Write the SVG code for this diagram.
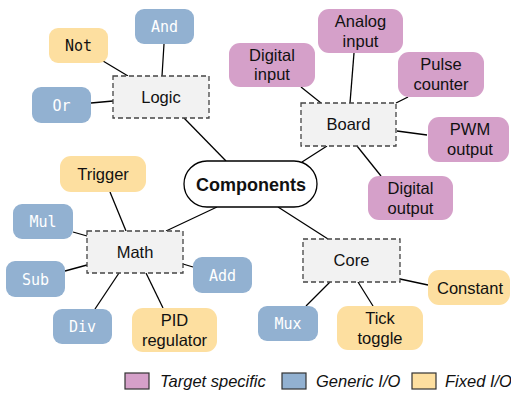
<svg xmlns="http://www.w3.org/2000/svg" width="511" height="393" viewBox="0 0 511 393">
  <style>
    .edge { stroke: #000; stroke-width: 1.3; fill: none; }
    .group rect { fill: #f2f2f2; stroke: #444; stroke-width: 1.3; stroke-dasharray: 5 3; }
    .target { fill: #d5a0c9; }
    .generic { fill: #92b1d1; }
    .fixed { fill: #fddfa0; }
    .lbl { font-family: "Liberation Sans", Arial, sans-serif; font-size: 16.5px; fill: #111; text-anchor: middle; }
    .root { font-size: 18px; font-weight: bold; }
    .mono { font-family: "DejaVu Sans Mono", "Liberation Mono", monospace; font-size: 15px; text-anchor: middle; }
    .mono.w { fill: #fff; }
    .mono.b { fill: #111; }
    .legend rect { stroke: #333; stroke-width: 1.2; }
    .legend text { font-family: "Liberation Sans", Arial, sans-serif; font-size: 16.5px; font-style: italic; fill: #111; }
  </style>

  <!-- connectors -->
  <g id="connectors">
    <line class="edge" x1="184" y1="118" x2="226" y2="161"/>
    <line class="edge" x1="103" y1="61" x2="128" y2="76"/>
    <line class="edge" x1="164" y1="44" x2="162" y2="76"/>
    <line class="edge" x1="91" y1="103" x2="113" y2="101"/>
    <line class="edge" x1="327" y1="146" x2="302" y2="162"/>
    <line class="edge" x1="301" y1="87" x2="321" y2="103"/>
    <line class="edge" x1="354" y1="53" x2="350" y2="103"/>
    <line class="edge" x1="408" y1="97" x2="396" y2="103"/>
    <line class="edge" x1="427" y1="135" x2="397" y2="131"/>
    <line class="edge" x1="381" y1="176" x2="357" y2="146"/>
    <line class="edge" x1="166" y1="231" x2="217" y2="207"/>
    <line class="edge" x1="110" y1="192" x2="126" y2="231"/>
    <line class="edge" x1="73" y1="232" x2="87" y2="236"/>
    <line class="edge" x1="65" y1="271" x2="87" y2="265"/>
    <line class="edge" x1="95" y1="309" x2="119" y2="273"/>
    <line class="edge" x1="163" y1="308" x2="146" y2="273"/>
    <line class="edge" x1="193" y1="267" x2="183" y2="264"/>
    <line class="edge" x1="328" y1="239" x2="278" y2="207"/>
    <line class="edge" x1="428" y1="285" x2="400" y2="279"/>
    <line class="edge" x1="306" y1="306" x2="330" y2="282"/>
    <line class="edge" x1="373" y1="306" x2="358" y2="282"/>
  </g>

  <!-- root -->
  <g id="components">
    <rect x="184" y="161" width="133" height="46" rx="23" fill="#fff" stroke="#000" stroke-width="1.3"/>
    <text x="251" y="190.5" class="lbl root">Components</text>
  </g>

  <!-- Logic group -->
  <g id="logic" class="group">
    <rect x="113" y="76" width="96" height="42"/>
    <text x="161" y="103" class="lbl">Logic</text>
  </g>
  <g id="and"><rect class="generic" x="135" y="9" width="59" height="35" rx="9"/><text x="164.5" y="31.5" class="mono w">And</text></g>
  <g id="not"><rect class="fixed" x="49" y="28" width="59" height="35" rx="9"/><text x="78.5" y="50.5" class="mono b">Not</text></g>
  <g id="or"><rect class="generic" x="32" y="87" width="59" height="36" rx="9"/><text x="61.5" y="110.5" class="mono w">Or</text></g>

  <!-- Board group -->
  <g id="board" class="group">
    <rect x="301" y="103" width="95" height="43"/>
    <text x="348.5" y="130" class="lbl">Board</text>
  </g>
  <g id="digital-input"><rect class="target" x="229" y="43" width="86" height="44" rx="11"/><text x="272" y="61" class="lbl">Digital</text><text x="272" y="80" class="lbl">input</text></g>
  <g id="analog-input"><rect class="target" x="318" y="9" width="85" height="44" rx="11"/><text x="360.5" y="27" class="lbl">Analog</text><text x="360.5" y="47" class="lbl">input</text></g>
  <g id="pulse-counter"><rect class="target" x="398" y="52" width="86" height="45" rx="11"/><text x="441" y="70" class="lbl">Pulse</text><text x="441" y="90" class="lbl">counter</text></g>
  <g id="pwm-output"><rect class="target" x="428" y="117" width="81" height="45" rx="11"/><text x="470" y="135" class="lbl">PWM</text><text x="470" y="155" class="lbl">output</text></g>
  <g id="digital-output"><rect class="target" x="368" y="176" width="85" height="44" rx="11"/><text x="410.5" y="194" class="lbl">Digital</text><text x="410.5" y="214" class="lbl">output</text></g>

  <!-- Math group -->
  <g id="math" class="group">
    <rect x="87" y="231" width="96" height="42"/>
    <text x="135" y="258" class="lbl">Math</text>
  </g>
  <g id="trigger"><rect class="fixed" x="60" y="156" width="86" height="36" rx="11"/><text x="103" y="179.5" class="lbl">Trigger</text></g>
  <g id="mul"><rect class="generic" x="13" y="204" width="60" height="35" rx="9"/><text x="43" y="226.5" class="mono w">Mul</text></g>
  <g id="sub"><rect class="generic" x="6" y="261" width="59" height="36" rx="9"/><text x="35.5" y="284.5" class="mono w">Sub</text></g>
  <g id="div"><rect class="generic" x="53" y="309" width="59" height="35" rx="9"/><text x="82.5" y="331.5" class="mono w">Div</text></g>
  <g id="pid-regulator"><rect class="fixed" x="132" y="308" width="85" height="44" rx="11"/><text x="174.5" y="326" class="lbl">PID</text><text x="174.5" y="346" class="lbl">regulator</text></g>
  <g id="add"><rect class="generic" x="193" y="257" width="59" height="36" rx="9"/><text x="222.5" y="280.5" class="mono w">Add</text></g>

  <!-- Core group -->
  <g id="core" class="group">
    <rect x="303" y="239" width="97" height="43"/>
    <text x="351.5" y="266" class="lbl">Core</text>
  </g>
  <g id="constant"><rect class="fixed" x="428" y="270" width="82" height="35" rx="11"/><text x="470" y="293.5" class="lbl">Constant</text></g>
  <g id="mux"><rect class="generic" x="258" y="306" width="60" height="35" rx="9"/><text x="288" y="328.5" class="mono w">Mux</text></g>
  <g id="tick-toggle"><rect class="fixed" x="337" y="306" width="86" height="44" rx="11"/><text x="380" y="324" class="lbl">Tick</text><text x="380" y="344" class="lbl">toggle</text></g>

  <!-- legend -->
  <g id="legend" class="legend">
    <rect class="target" x="125" y="373" width="24" height="16"/>
    <text x="160" y="387">Target specific</text>
    <rect class="generic" x="282" y="373" width="24" height="16"/>
    <text x="316" y="387">Generic I/O</text>
    <rect class="fixed" x="412" y="373" width="24" height="16"/>
    <text x="445" y="387">Fixed I/O</text>
  </g>
</svg>
